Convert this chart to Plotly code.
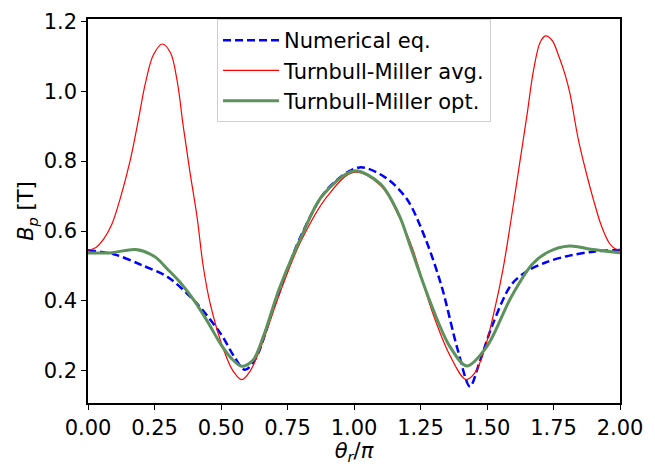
import plotly.graph_objects as go

# Numerical equilibrium
num_x = [0, 0.1, 0.2, 0.3, 0.4, 0.5, 0.55, 0.59, 0.63, 0.7, 0.8, 0.9, 1.02, 1.12,
         1.2, 1.27, 1.33, 1.39, 1.436, 1.47, 1.52, 1.59, 1.65, 1.72, 1.8, 1.9, 2.0]
num_y = [0.545, 0.533, 0.503, 0.468, 0.40, 0.305, 0.24, 0.203, 0.235, 0.385, 0.585,
         0.72, 0.782, 0.752, 0.69, 0.575, 0.44, 0.26, 0.155, 0.22, 0.33, 0.445,
         0.485, 0.51, 0.528, 0.541, 0.546]

# Turnbull-Miller averaged
avg_x = [0, 0.03, 0.06, 0.09, 0.12, 0.158, 0.19, 0.215, 0.246, 0.279, 0.31, 0.335,
         0.358, 0.383, 0.41, 0.433, 0.46, 0.51, 0.545, 0.578, 0.61, 0.65, 0.72,
         0.8, 0.9, 1.0, 1.1, 1.17, 1.22, 1.29, 1.36, 1.421, 1.455, 1.49, 1.53,
         1.56, 1.59, 1.62, 1.65, 1.675, 1.70, 1.72, 1.745, 1.77, 1.793, 1.812,
         1.843, 1.875, 1.90, 1.93, 1.96, 1.98, 2.0]
avg_y = [0.545, 0.553, 0.578, 0.62, 0.69, 0.80, 0.92, 1.02, 1.104, 1.135, 1.11,
         1.03, 0.90, 0.77, 0.64, 0.50, 0.39, 0.26, 0.20, 0.175, 0.20, 0.268, 0.42,
         0.57, 0.70, 0.768, 0.73, 0.64, 0.55, 0.378, 0.245, 0.175, 0.195, 0.26,
         0.38, 0.49, 0.63, 0.78, 0.93, 1.06, 1.14, 1.158, 1.145, 1.10, 1.049,
         0.993, 0.863, 0.761, 0.69, 0.615, 0.565, 0.55, 0.545]

# Turnbull-Miller optimised
opt_x = [0, 0.09, 0.18, 0.25, 0.3, 0.35, 0.4, 0.45, 0.5, 0.54, 0.578, 0.62, 0.66,
         0.72, 0.8, 0.88, 1.0, 1.1, 1.17, 1.21, 1.29, 1.36, 1.424, 1.5, 1.59,
         1.67, 1.73, 1.81, 1.89, 2.0]
opt_y = [0.537, 0.538, 0.547, 0.527, 0.49, 0.45, 0.40, 0.34, 0.275, 0.235, 0.213,
         0.23, 0.30, 0.437, 0.58, 0.70, 0.772, 0.734, 0.645, 0.56, 0.39, 0.27,
         0.214, 0.27, 0.41, 0.505, 0.54, 0.557, 0.548, 0.538]

x_ticks = [0, 0.25, 0.5, 0.75, 1.0, 1.25, 1.5, 1.75, 2.0]
x_tick_labels = ["0.00", "0.25", "0.50", "0.75", "1.00", "1.25", "1.50", "1.75", "2.00"]
y_ticks = [0.2, 0.4, 0.6, 0.8, 1.0, 1.2]
y_tick_labels = ["0.2", "0.4", "0.6", "0.8", "1.0", "1.2"]

FS = 21

fig = go.Figure()
fig.add_trace(go.Scatter(x=num_x, y=num_y, mode="lines", name="Numerical eq.",
                         line=dict(color="#0000ff", width=2.5, dash="8px,4px",
                                   shape="spline", smoothing=0.9)))
fig.add_trace(go.Scatter(x=avg_x, y=avg_y, mode="lines", name="Turnbull-Miller avg.",
                         line=dict(color="#ff0000", width=1.2, shape="spline",
                                   smoothing=1.0)))
fig.add_trace(go.Scatter(x=opt_x, y=opt_y, mode="lines", name="Turnbull-Miller opt.",
                         line=dict(color="rgb(92,146,92)", width=3, shape="spline",
                                   smoothing=0.9)))

axis_common = dict(showline=True, linecolor="black", linewidth=1.5, mirror=True,
                   ticks="outside", ticklen=5, tickwidth=1.3, tickcolor="black",
                   showgrid=False, zeroline=False,
                   tickfont=dict(family="DejaVu Sans", size=FS, color="black"))

fig.update_layout(
    width=655, height=465,
    margin=dict(l=88, r=35, t=10, b=60),
    plot_bgcolor="white", paper_bgcolor="white",
    font=dict(family="DejaVu Sans", size=FS, color="black"),
    xaxis=dict(range=[0, 2], tickvals=x_ticks, ticktext=x_tick_labels,
               title=dict(text="<i>θ<sub>r</sub></i>/<i>π</i>", standoff=0,
                          font=dict(size=FS)),
               **axis_common),
    yaxis=dict(range=[0.108, 1.2065], tickvals=y_ticks, ticktext=y_tick_labels,
               title=dict(text="<i>B<sub>p</sub></i> [T]", standoff=4,
                          font=dict(size=FS)),
               **axis_common),
    legend=dict(x=0.2425, y=1.0, xanchor="left", yanchor="top",
                bgcolor="rgba(255,255,255,0.8)", bordercolor="#d0d0d0",
                borderwidth=1, font=dict(size=FS, family="DejaVu Sans"),
                tracegroupgap=0, itemwidth=56),
    showlegend=True,
)

fig.write_html("out.html")
